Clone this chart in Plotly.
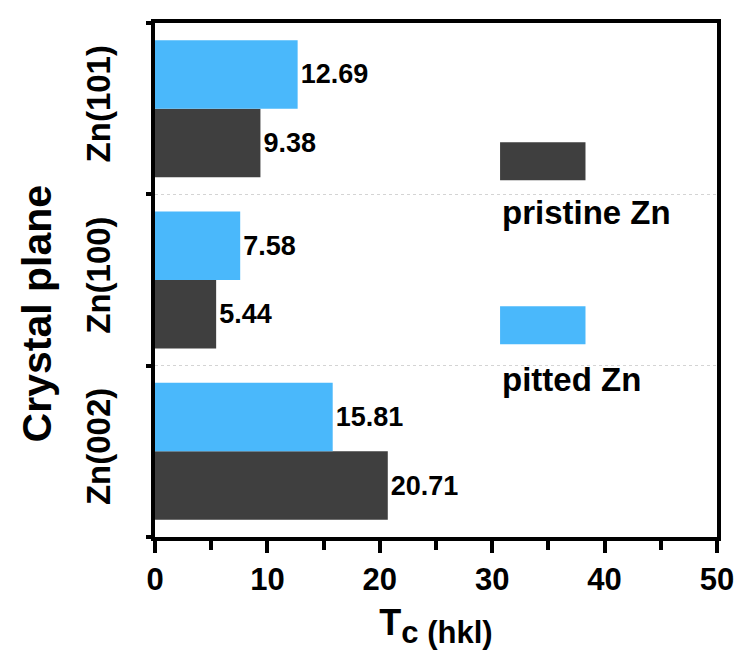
import plotly.graph_objects as go

categories = ["Zn(002)", "Zn(100)", "Zn(101)"]
pristine = [20.71, 5.44, 9.38]
pitted = [15.81, 7.58, 12.69]
x_ticks = [0, 10, 20, 30, 40, 50]

FONT = "Liberation Sans, Arial, sans-serif"
DARK = "#3f3f3f"
BLUE = "#4ab8fb"

fig = go.Figure()
fig.add_trace(go.Bar(
    y=categories, x=pristine, orientation="h", name="pristine Zn",
    marker=dict(color=DARK, line=dict(width=0)),
    text=[f"{v:.2f}" for v in pristine], textposition="outside",
    textfont=dict(family=FONT, size=27, color="black", weight="bold"),
    constraintext="none", cliponaxis=False,
))
fig.add_trace(go.Bar(
    y=categories, x=pitted, orientation="h", name="pitted Zn",
    marker=dict(color=BLUE, line=dict(width=0)),
    text=[f"{v:.2f}" for v in pitted], textposition="outside",
    textfont=dict(family=FONT, size=27, color="black", weight="bold"),
    constraintext="none", cliponaxis=False,
))

fig.update_layout(
    width=746, height=650,
    margin=dict(l=155, r=25, t=23, b=113),
    paper_bgcolor="white", plot_bgcolor="white",
    barmode="group", bargap=0.2, bargroupgap=0,
    showlegend=False,
    font=dict(family=FONT, color="black"),
)

fig.update_xaxes(
    range=[0, 50], tickvals=x_ticks, ticktext=[str(t) for t in x_ticks],
    ticks="outside", ticklen=12, tickwidth=4, tickcolor="black",
    minor=dict(dtick=5, ticks="outside", ticklen=9, tickwidth=4, tickcolor="black", showgrid=False),
    showline=True, linewidth=4, linecolor="black", mirror=True,
    showgrid=False, zeroline=False,
    ticklabelstandoff=0,
    tickfont=dict(family=FONT, size=31, color="black", weight="bold"),
    title=dict(text="T<sub><span style='font-size:31px'>c (hkl)</span></sub>",
               font=dict(family=FONT, size=36, color="black", weight="bold"), standoff=16),
)
fig.update_yaxes(
    categoryorder="array", categoryarray=categories,
    tickson="boundaries", ticks="outside", ticklen=5, tickwidth=4, tickcolor="black",
    showline=True, linewidth=4, linecolor="black", mirror=True,
    showgrid=True, gridcolor="#d4d4d4", gridwidth=1, griddash="dot",
    tickangle=-90, ticklabelstandoff=28,
    tickfont=dict(family=FONT, size=33, color="black", weight="bold"),
)

# y-axis title placed as annotation (offset downward like the reference)
fig.add_annotation(text="Crystal plane", xref="paper", yref="paper", x=-0.21, y=0.435,
                   textangle=-90, showarrow=False, xanchor="center", yanchor="middle",
                   font=dict(family=FONT, size=41, color="black", weight="bold"))

# Legend drawn manually (swatch above label)
legend_items = [("pristine Zn", DARK, 0.768, 0.632), ("pitted Zn", BLUE, 0.449, 0.307)]
for label, color, sy, ty in legend_items:
    fig.add_shape(type="rect", xref="paper", yref="paper",
                  x0=0.614, x1=0.766, y0=sy - 0.074, y1=sy, fillcolor=color, line=dict(width=0))
    fig.add_annotation(text=label, xref="paper", yref="paper", x=0.613, y=ty,
                       xanchor="left", yanchor="middle", showarrow=False,
                       font=dict(family=FONT, size=33, color="black", weight="bold"))

fig.write_html("out.html")
